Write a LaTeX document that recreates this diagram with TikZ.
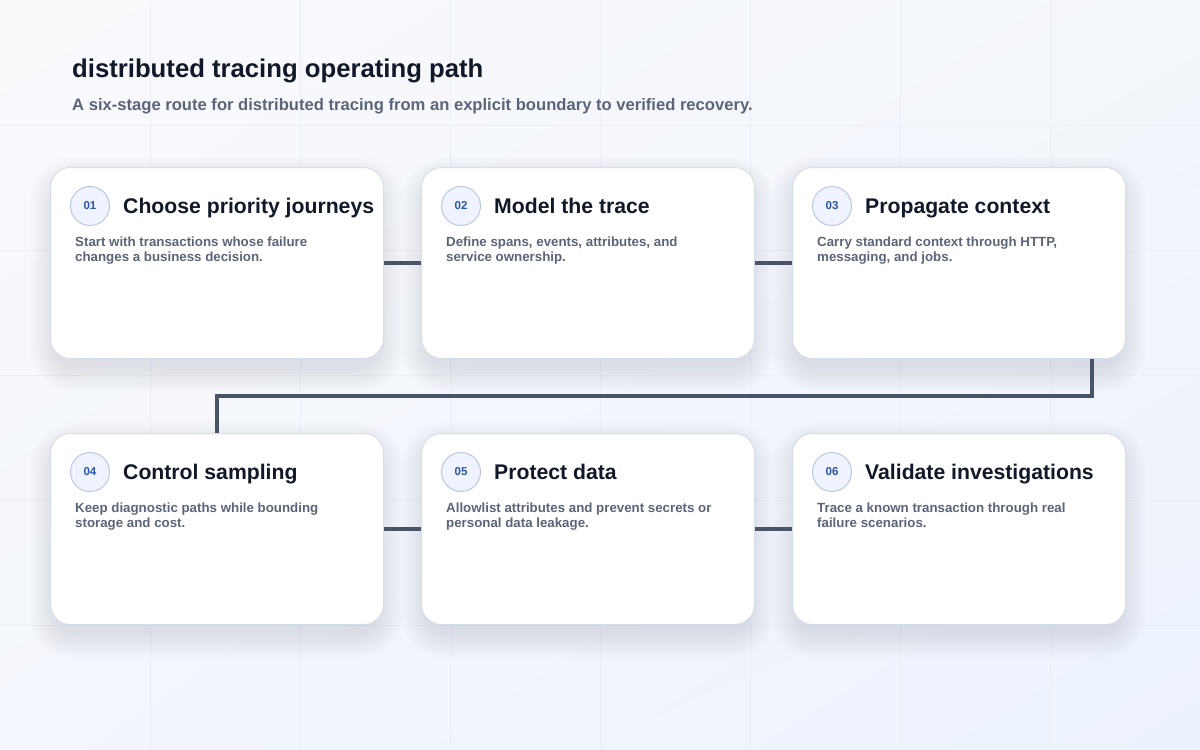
\documentclass[tikz,border=0pt]{standalone}
\usepackage{fontspec}
\setmainfont{Liberation Sans}
\usetikzlibrary{calc,shadings}
\definecolor{bgA}{HTML}{F9FAFC}
\definecolor{bgB}{HTML}{F3F6FB}
\definecolor{bgC}{HTML}{F3F6FC}
\definecolor{bgD}{HTML}{ECF2FD}
\definecolor{gridc}{HTML}{EBEEF4}
\definecolor{cardline}{HTML}{D6DEEA}
\definecolor{shadowc}{HTML}{5C6C94}
\definecolor{badgefill}{HTML}{EEF3FD}
\definecolor{badgeline}{HTML}{B9C8E4}
\definecolor{badgetext}{HTML}{2D55A6}
\definecolor{titlec}{HTML}{111827}
\definecolor{descc}{HTML}{5B6577}
\definecolor{connc}{HTML}{4A5467}
\begin{document}
\begin{tikzpicture}[x=1pt,y=-1pt,
  card/.style={draw=cardline, line width=1pt, fill=white, rounded corners=20pt,
    minimum width=333pt, minimum height=191pt, inner sep=0pt, anchor=north west},
  badge/.style={circle, draw=badgeline, line width=1pt, fill=badgefill, minimum size=39pt,
    inner sep=0pt, text=badgetext, font=\bfseries\fontsize{11.5}{13}\selectfont},
  ttl/.style={anchor=base west, inner sep=0pt, text=titlec, font=\bfseries\fontsize{21.2}{25}\selectfont},
  desc/.style={anchor=base west, inner sep=0pt, text=descc, align=left,
    font=\bfseries\fontsize{13.3}{15}\selectfont},
  conn/.style={draw=connc, line width=4pt, line join=miter}
]
\useasboundingbox (0,0) rectangle (1200,750);
\shade[upper left=bgA, upper right=bgB, lower left=bgC, lower right=bgD] (0,0) rectangle (1200,750);
\foreach \gx in {150,300,...,1050} \draw[gridc, line width=1pt] (\gx,0) -- (\gx,750);
\foreach \gy in {125,250,...,625} \draw[gridc, line width=1pt] (0,\gy) -- (1200,\gy);
% shadows
\foreach \cx/\cy in {50/167,421/167,792/167,50/433,421/433,792/433}{
  \foreach \i in {1,...,12}{
    \fill[shadowc, opacity=0.012, rounded corners={20pt+\i*2pt}]
      ({\cx+6-\i*2.2},{\cy+16-\i*2.2}) rectangle ({\cx+333-6+\i*2.2},{\cy+191+8+\i*2.2});
  }
}
\node[card] (c1) at (50,167) {};
\node[card] (c2) at (421,167) {};
\node[card] (c3) at (792,167) {};
\node[card] (c4) at (50,433) {};
\node[card] (c5) at (421,433) {};
\node[card] (c6) at (792,433) {};
% header
\node[anchor=base west, inner sep=0pt, text=titlec, font=\bfseries\fontsize{25.7}{30}\selectfont] (title) at (72,77) {distributed tracing operating path};
\node[anchor=base west, inner sep=0pt, text=descc, font=\bfseries\fontsize{16.6}{20}\selectfont] (subtitle) at (72,110) {A six-stage route for distributed tracing from an explicit boundary to verified recovery.};
% card contents
\foreach \c/\n/\t/\da/\db in {
  c1/01/Choose priority journeys/Start with transactions whose failure/changes a business decision.,
  c2/02/Model the trace/{Define spans, events, attributes, and}/service ownership.,
  c3/03/Propagate context/{Carry standard context through HTTP,}/{messaging, and jobs.},
  c4/04/Control sampling/Keep diagnostic paths while bounding/storage and cost.,
  c5/05/Protect data/Allowlist attributes and prevent secrets or/personal data leakage.,
  c6/06/Validate investigations/Trace a known transaction through real/failure scenarios.}{
  \node[badge] (\c-b) at ([shift={(40pt,-39pt)}]\c.north west) {\n};
  \node[ttl] (\c-t) at ([shift={(73pt,-46pt)}]\c.north west) {\t};
  \node[desc] (\c-d) at ([shift={(25pt,-94pt)}]\c.north west) {\da\\\db};
}
% connectors
\draw[conn] (c1.east) -- (c2.west);
\draw[conn] (c2.east) -- (c3.west);
\coordinate (k) at ([xshift=132.5pt]c3.south);
\draw[conn] (k) |- ($(k)!0.5!(c4.north)$) -| (c4.north);
\draw[conn] (c4.east) -- (c5.west);
\draw[conn] (c5.east) -- (c6.west);
\end{tikzpicture}
\end{document}
